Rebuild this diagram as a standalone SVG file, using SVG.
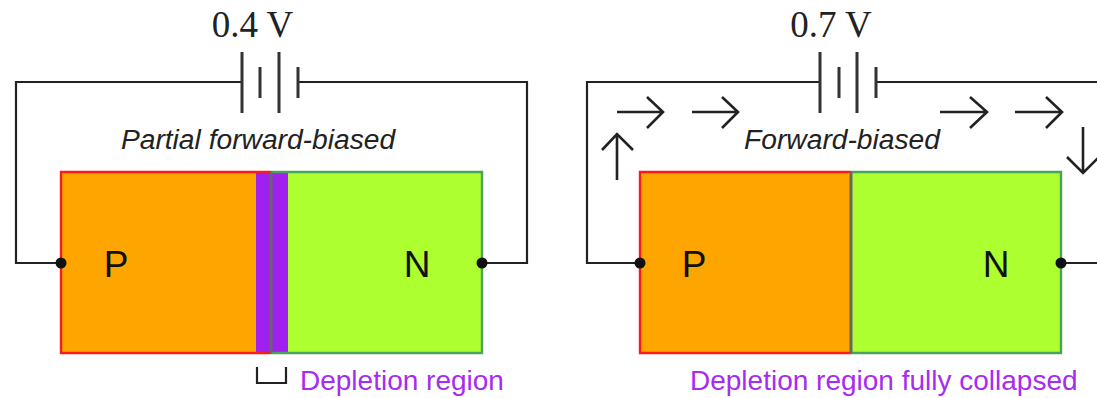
<svg xmlns="http://www.w3.org/2000/svg" width="1097" height="398" viewBox="0 0 1097 398">
<defs><style>
.w{fill:none;stroke:#222;stroke-width:2.2}
.a{fill:none;stroke:#222;stroke-width:2.6}
.b{fill:none;stroke:#333;stroke-width:3}
.p{fill:#ffa500;stroke:none}
.n{fill:#adff2f;stroke:none}
.pe{fill:none;stroke:#ff1a1a;stroke-width:2.4}
.ne{fill:none;stroke:#4aa35a;stroke-width:2.4}
.v{font-family:"Liberation Serif",serif;font-size:37px;fill:#222;text-anchor:middle}
.i{font-family:"Liberation Sans",sans-serif;font-size:28.2px;font-style:italic;fill:#222;text-anchor:middle}
.l{font-family:"Liberation Sans",sans-serif;font-size:37px;fill:#111;text-anchor:middle}
.d{font-family:"Liberation Sans",sans-serif;font-size:28px;fill:#a72bf0}
</style></defs>
<g id="connectors">
<path class="w" d="M242 82H16V263H61M298 82H527V263H482"/>
<path class="w" d="M820 82H587V263H640M876 82H1097M1097 263H1061"/>
<path class="w" d="M257 367V383H286V367"/>
<path class="a" d="M617 112H663M647 97L663 112L647 128M692 112H738M722 97L738 112L722 128M940 112H987M970 97L987 112L970 128M1015 112H1062M1046 97L1062 112L1046 128M617 180V134M602 150L617 134L633 150M1083 127V173M1067 157L1083 173L1099 157"/>
</g>
<g id="battery-left"><path class="b" d="M242 52V113M279 52V113M260 67V98M298 67V98"/><text class="v" x="252.500" y="37">0.4 V</text></g>
<g id="battery-right"><path class="b" d="M820 52V113M857 52V113M839 67V98M876 67V98"/><text class="v" x="831" y="37">0.7 V</text></g>
<g id="diode-left">
<rect class="p" x="61" y="172" width="195" height="181"/>
<rect x="256" y="172" width="32" height="181" fill="#a020f0"/>
<rect class="n" x="288" y="172" width="194" height="181"/>
<path class="pe" d="M271 172H61V353H271"/>
<path class="ne" d="M271 172H482V353H271"/>
<path d="M271 172V353" stroke="#666" stroke-width="3"/>
<circle cx="61" cy="263" r="5.500" fill="#111"/><circle cx="482" cy="263" r="5.500" fill="#111"/>
<text class="l" x="116" y="277">P</text><text class="l" x="417" y="277">N</text>
<text class="i" x="258" y="149">Partial forward-biased</text>
<text class="d" x="300" y="390">Depletion region</text>
</g>
<g id="diode-right">
<rect class="p" x="640" y="172" width="211" height="181"/>
<rect class="n" x="851" y="172" width="210" height="181"/>
<path class="pe" d="M851 172H640V353H851"/>
<path class="ne" d="M851 172H1061V353H851"/>
<path d="M851 172V353" stroke="#666" stroke-width="3"/>
<circle cx="640" cy="263" r="5.500" fill="#111"/><circle cx="1061" cy="263" r="5.500" fill="#111"/>
<text class="l" x="694" y="277">P</text><text class="l" x="996" y="277">N</text>
<text class="i" x="842" y="149">Forward-biased</text>
<text class="d" x="690" y="390">Depletion region fully collapsed</text>
</g>
</svg>
